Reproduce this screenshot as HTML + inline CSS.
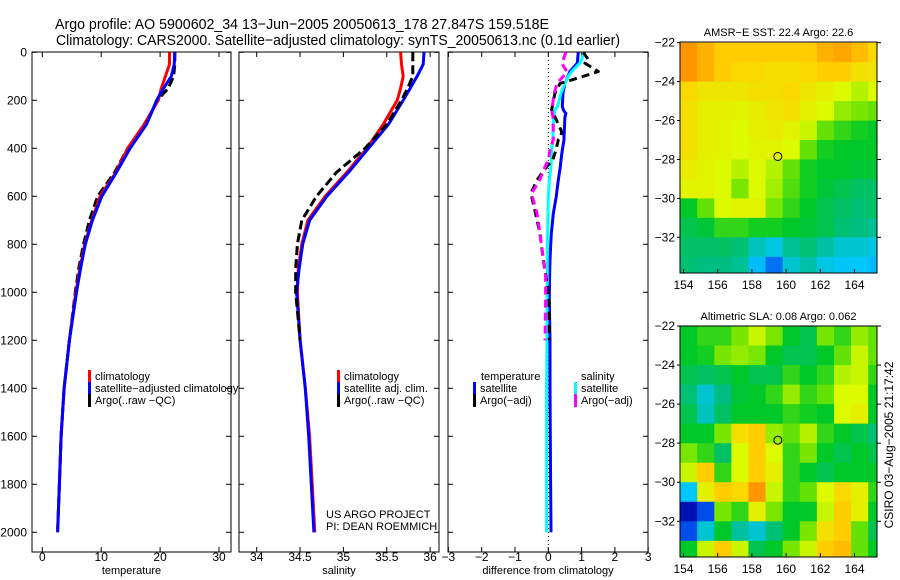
<!DOCTYPE html>
<html><head><meta charset="utf-8"><style>
body{margin:0;background:#fff;}
svg{display:block;font-family:"Liberation Sans",sans-serif;}
</style></head><body>
<svg id="fig" width="900" height="580" viewBox="0 0 900 580" xmlns="http://www.w3.org/2000/svg">
<rect width="900" height="580" fill="#fff"/>
<text x="302" y="29" font-size="15" text-anchor="middle" textLength="494" lengthAdjust="spacingAndGlyphs">Argo profile: AO 5900602_34 13−Jun−2005 20050613_178 27.847S 159.518E</text>
<text x="338" y="45" font-size="15" text-anchor="middle" textLength="564" lengthAdjust="spacingAndGlyphs">Climatology: CARS2000. Satellite−adjusted climatology: synTS_20050613.nc (0.1d earlier)</text>
<g id="g"></g>
</svg>
<script>
// ---------- data ----------
const depths = [0,50,100,150,200,300,400,500,600,700,800,900,1000,1200,1400,1600,1800,2000];
const tempClim = [21.6,21.6,20.9,20.2,19.7,17.3,14.5,12.5,9.8,8.4,7.2,6.4,5.7,4.6,3.7,3.2,2.9,2.6];
const tempSat  = [22.5,22.4,21.9,20.6,19.4,17.7,14.9,12.6,10.1,8.5,7.3,6.5,5.8,4.6,3.7,3.2,2.9,2.6];
const tempArgo = [22.5,22.5,22.3,21.4,19.5,17.6,14.5,12.3,9.4,8.0,7.0,6.2,5.6,4.6,3.7,3.2,2.9,2.6];
const salClim = [35.66,35.67,35.69,35.66,35.62,35.46,35.27,35.04,34.79,34.59,34.52,34.48,34.47,34.50,34.56,34.61,34.64,34.67];
const salSat  = [35.93,35.92,35.85,35.77,35.69,35.52,35.29,35.06,34.81,34.61,34.53,34.49,34.46,34.50,34.56,34.60,34.63,34.66];
const salArgo = [35.80,35.80,35.80,35.74,35.67,35.50,35.25,34.92,34.69,34.52,34.47,34.45,34.45,34.50];
const diffDepths = [0,30,45,80,100,130,170,225,240,255,270,330,352,365,407,449,477,532,588,600,672,755,810,865,935,1030,1200,1400,1600,1800,2000];
const dTempSat  = [0.90,0.88,0.87,0.65,0.59,0.50,0.44,0.42,0.45,0.53,0.50,0.48,0.47,0.47,0.42,0.38,0.36,0.30,0.25,0.24,0.15,0.09,0.07,0.05,0.04,0.03,0.05,0.05,0.06,0.07,0.08];
const dTempArgo = [1.05,1.20,1.10,1.50,1.05,0.35,0.20,0.12,0.10,0.15,0.20,0.40,0.38,0.30,0.23,0.13,-0.05,-0.34,-0.52,-0.50,-0.38,-0.25,-0.20,-0.15,-0.07,0.02,0.03];
const dSalSat   = [1.07,1.00,0.95,0.70,0.60,0.50,0.38,0.28,0.20,0.18,0.16,0.14,0.14,0.13,0.10,0.09,0.08,0.03,0.01,0.00,-0.01,-0.02,-0.03,-0.03,-0.03,-0.04,-0.04,-0.05,-0.05,-0.05,-0.05];
const dSalArgo  = [0.53,0.45,0.40,0.56,0.45,0.26,0.18,0.12,0.10,0.12,0.14,0.15,0.15,0.15,0.05,0.00,-0.10,-0.26,-0.50,-0.48,-0.34,-0.25,-0.20,-0.14,-0.08,-0.08,-0.10];
const depthTicks = [0,200,400,600,800,1000,1200,1400,1600,1800,2000];
const tempTicks = [0,10,20,30];
const salTicks = [34,34.5,35,35.5,36];
const diffTicks = [-3,-2,-1,0,1,2,3];
const lonTicks = [154,156,158,160,162,164];
const latTicks = [-22,-24,-26,-28,-30,-32];
const gridLon0 = 153.8;
const gridLat0 = -22;
const sstGrid = [
[0.95,0.9,0.85,0.85,0.85,0.85,0.85,0.85,0.9,0.92,0.88,0.82],
[0.95,0.9,0.85,0.82,0.82,0.8,0.8,0.82,0.85,0.85,0.8,0.78],
[0.82,0.78,0.78,0.78,0.8,0.8,0.82,0.78,0.75,0.72,0.68,0.72],
[0.8,0.75,0.75,0.74,0.76,0.78,0.8,0.75,0.72,0.65,0.62,0.6],
[0.8,0.75,0.74,0.72,0.75,0.76,0.74,0.7,0.6,0.55,0.52,0.5],
[0.8,0.75,0.74,0.72,0.74,0.74,0.72,0.6,0.52,0.5,0.5,0.5],
[0.76,0.74,0.72,0.68,0.72,0.68,0.6,0.52,0.5,0.5,0.48,0.48],
[0.74,0.74,0.72,0.62,0.72,0.66,0.58,0.52,0.48,0.45,0.42,0.42],
[0.5,0.6,0.72,0.74,0.74,0.62,0.55,0.5,0.45,0.42,0.4,0.42],
[0.45,0.48,0.55,0.55,0.52,0.52,0.5,0.48,0.45,0.4,0.38,0.36],
[0.42,0.42,0.42,0.4,0.32,0.28,0.36,0.4,0.34,0.3,0.3,0.28],
[0.4,0.38,0.38,0.36,0.24,0.18,0.3,0.34,0.28,0.26,0.25,0.24]];
const slaGrid = [
[0.5,0.55,0.55,0.62,0.7,0.62,0.5,0.45,0.62,0.55,0.65,0.6],
[0.5,0.52,0.62,0.65,0.62,0.5,0.45,0.45,0.5,0.6,0.7,0.6],
[0.45,0.42,0.45,0.5,0.45,0.45,0.55,0.5,0.55,0.68,0.7,0.55],
[0.4,0.3,0.38,0.48,0.5,0.55,0.65,0.55,0.6,0.72,0.72,0.5],
[0.45,0.32,0.42,0.5,0.5,0.5,0.55,0.52,0.5,0.72,0.75,0.5],
[0.5,0.5,0.62,0.8,0.85,0.65,0.6,0.68,0.55,0.5,0.45,0.4],
[0.62,0.55,0.42,0.72,0.85,0.72,0.55,0.62,0.5,0.45,0.5,0.45],
[0.7,0.85,0.55,0.72,0.85,0.75,0.55,0.5,0.45,0.5,0.5,0.5],
[0.25,0.75,0.85,0.82,0.95,0.7,0.55,0.6,0.72,0.82,0.75,0.55],
[0.05,0.15,0.62,0.55,0.75,0.62,0.5,0.5,0.7,0.85,0.75,0.5],
[0.15,0.3,0.5,0.35,0.3,0.4,0.5,0.62,0.8,0.85,0.6,0.45],
[0.5,0.7,0.85,0.7,0.45,0.5,0.62,0.7,0.85,0.88,0.6,0.5]];
const floatLon = 159.518, floatLat = -27.847;

// ---------- drawing ----------
const NS="http://www.w3.org/2000/svg";
const G=document.getElementById('g');
function mk(tag,attrs,parent){const e=document.createElementNS(NS,tag);for(const k in attrs)e.setAttribute(k,attrs[k]);(parent||G).appendChild(e);return e;}
const yD = d => 52.3 + d*0.24;
const xT = t => 42.3 + t*5.89;
const xS = s => 256.7 + (s-34)*86.7;
const xDf = v => 548.3 + v*33.3;

function panel(x0,x1,name,ticks,xf,label,showDepth){
  const r=mk('rect',{x:x0,y:52,width:x1-x0,height:500,fill:'none',stroke:'#000','stroke-width':1});
  
  
  depthTicks.forEach(d=>{
    const y=yD(d);
    const a=mk('line',{x1:x0,x2:x0+5,y1:y,y2:y,stroke:'#000'});
    
    
    const b=mk('line',{x1:x1-5,x2:x1,y1:y,y2:y,stroke:'#000'});
    
    
    if(showDepth){
      const t=mk('text',{x:27,y:y+4,'font-size':12,'text-anchor':'end'});
      t.textContent=d;
      
      
    }
  });
  ticks.forEach(v=>{
    const x=xf(v);
    const a=mk('line',{x1:x,x2:x,y1:552,y2:547,stroke:'#000'});
    
    
    const b=mk('line',{x1:x,x2:x,y1:52,y2:57,stroke:'#000'});
    
    
    const t=mk('text',{x:x,y:561,'font-size':12,'text-anchor':'middle'});
    t.textContent=(v<0?'−'+(-v):v);
    
    
  });
  const l=mk('text',{x:(x0+x1)/2,y:574,'font-size':11,'text-anchor':'middle'});
  l.textContent=label;
  
  
}
function line(vals,dep,xf,color,name,dash){
  const pts=vals.map((v,i)=>xf(v).toFixed(1)+','+yD(dep[i]).toFixed(1)).join(' ');
  const p=mk('polyline',{points:pts,fill:'none',stroke:color,'stroke-width':3,'stroke-linejoin':'round'});
  if(dash)p.setAttribute('stroke-dasharray',dash);
  
  
}
function legend(x,y,color,text,name){
  const m=mk('rect',{x:x,y:y-10,width:3,height:13,fill:color});
  
  
  const t=mk('text',{x:x+7,y:y,'font-size':11});
  t.textContent=text;
  
  
}

panel(32,231,'temperature-panel',tempTicks,xT,'temperature',true);
panel(239,439,'salinity-panel',salTicks,xS,'salinity',false);
panel(448,648,'difference-panel',diffTicks,xDf,'difference from climatology',false);

line(tempArgo,depths,xT,'#000','temp-argo-line','9,4');
line(tempClim,depths,xT,'#f00','temp-climatology-line');
line(tempSat,depths,xT,'#00f','temp-satellite-line');
line(salClim,depths,xS,'#f00','sal-climatology-line');
line(salSat,depths,xS,'#00f','sal-satellite-line');
line(salArgo,depths,xS,'#000','sal-argo-line','9,4');

const zl=mk('line',{x1:xDf(0),x2:xDf(0),y1:52,y2:552,stroke:'#000','stroke-dasharray':'1,3'});


line(dTempSat,diffDepths,xDf,'#00f','diff-temp-satellite-line');
line(dSalSat,diffDepths,xDf,'#0ff','diff-sal-satellite-line');
line(dTempArgo,diffDepths,xDf,'#000','diff-temp-argo-line','8,5');
line(dSalArgo,diffDepths,xDf,'#f0f','diff-sal-argo-line','8,5');

legend(88,380,'#f00','climatology','legend-temp-climatology');
legend(88,392,'#00f','satellite−adjusted climatology','legend-temp-satellite');
legend(88,404,'#000','Argo(..raw −QC)','legend-temp-argo');
legend(337,380,'#f00','climatology','legend-sal-climatology');
legend(337,392,'#00f','satellite adj. clim.','legend-sal-satellite');
legend(337,404,'#000','Argo(..raw −QC)','legend-sal-argo');
(function(){const t=mk('text',{x:481,y:380,'font-size':11});t.textContent='temperature';


const s=mk('text',{x:581,y:380,'font-size':11});s.textContent='salinity';

})();
legend(473,392,'#00f','satellite','legend-diff-temp-satellite');
legend(473,404,'#000','Argo(−adj)','legend-diff-temp-argo');
legend(574,392,'#0ff','satellite','legend-diff-sal-satellite');
legend(574,404,'#f0f','Argo(−adj)','legend-diff-sal-argo');
(function(){const a=mk('text',{x:326,y:518,'font-size':11});a.textContent='US ARGO PROJECT';


const b=mk('text',{x:326,y:530,'font-size':11});b.textContent='PI: DEAN ROEMMICH';

})();

// colormap
const stops=[[0,[0,0,140]],[0.12,[0,40,230]],[0.25,[0,200,255]],[0.38,[0,190,130]],[0.5,[0,200,40]],[0.62,[120,230,0]],[0.72,[220,250,0]],[0.84,[255,210,0]],[0.95,[255,150,0]],[1.05,[200,60,0]]];
function cmap(v){for(let i=1;i<stops.length;i++){if(v<=stops[i][0]){const a=stops[i-1],b=stops[i];const f=(v-a[0])/(b[0]-a[0]);return 'rgb('+a[1].map((c,k)=>Math.round(c+(b[1][k]-c)*f)).join(',')+')';}}return 'rgb(200,60,0)';}

function map(name,top,bottom,lat22y,pxLat,grid,title){
  const x0=680,x1=877,pxLon=17.1,lon154x=683.5;
  const xL=l=>lon154x+(l-154)*pxLon;
  const yL=l=>lat22y+(-22-l)*pxLat;
  const clip=mk('clipPath',{id:name+'-clip'});
  mk('rect',{x:x0,y:top,width:x1-x0,height:bottom-top},clip);
  const cg=mk('g',{'clip-path':'url(#'+name+'-clip)'});
  
  
  grid.forEach((row,r)=>row.forEach((v,c)=>{
    const lon=gridLon0+c, lat=gridLat0-r;
    const cell=mk('rect',{x:xL(lon),y:yL(lat),width:pxLon+0.5,height:pxLat+0.5,fill:cmap(v)},cg);
    
    
  }));
  const fr=mk('rect',{x:x0,y:top,width:x1-x0,height:bottom-top,fill:'none',stroke:'#000'});
  
  
  lonTicks.forEach(l=>{
    const x=xL(l);
    const tk=mk('line',{x1:x,x2:x,y1:bottom,y2:bottom-4,stroke:'#000'});
    
    
    const t=mk('text',{x:x,y:bottom+16,'font-size':12,'text-anchor':'middle'});
    t.textContent=l;
    
    
  });
  latTicks.forEach(l=>{
    const y=yL(l);
    const tk=mk('line',{x1:x1,x2:x1+4,y1:y,y2:y,stroke:'#000'});
    
    
    const tk2=mk('line',{x1:x0-3,x2:x0,y1:y,y2:y,stroke:'#000'});
    
    
    const t=mk('text',{x:675,y:y+4,'font-size':12,'text-anchor':'end'});
    t.textContent='−'+(-l);
    
    
  });
  const ci=mk('circle',{cx:xL(floatLon),cy:yL(floatLat),r:4,fill:'none',stroke:'#000'});
  
  
  const tt=mk('text',{x:(x0+x1)/2,y:top-6,'font-size':11,'text-anchor':'middle'});
  tt.textContent=title;
  
  
}
map('sst-map',42,273,42.7,19.46,sstGrid,'AMSR−E SST: 22.4 Argo: 22.6');
map('sla-map',326,557,326,19.53,slaGrid,'Altimetric SLA: 0.08 Argo: 0.062');
(function(){const t=mk('text',{x:0,y:0,'font-size':12,'text-anchor':'middle',transform:'translate(893,445) rotate(-90)'});
t.textContent='CSIRO 03−Aug−2005 21:17:42';

})();
</script>
</body></html>
